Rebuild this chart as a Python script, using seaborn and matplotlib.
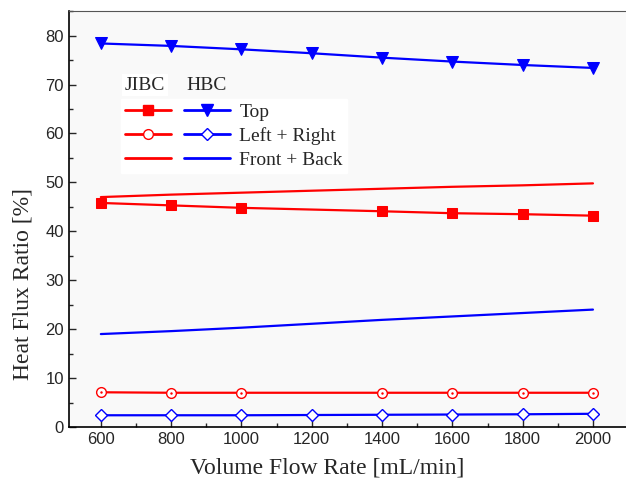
import numpy as np
import pandas as pd
import seaborn as sns
import matplotlib.pyplot as plt
from matplotlib.lines import Line2D
from matplotlib.ticker import MultipleLocator

# 流量 (mL/min)
flow_hbc = [600, 800, 1000, 1200, 1400, 1600, 1800, 2000]
flow_jibc = [600, 800, 1000, 1400, 1600, 1800, 2000]  # 1200 没有数据

jibc_top = [45.8, 45.3, 44.8, 44.1, 43.7, 43.5, 43.2]
jibc_lr = [7.1, 7.0, 7.0, 7.0, 7.0, 7.0, 7.0]
jibc_fb = [47.0, 47.5, 47.9, 48.3, 48.7, 49.1, 49.4, 49.8]

hbc_top = [78.4, 77.9, 77.2, 76.4, 75.5, 74.7, 74.0, 73.4]
hbc_lr = [2.4, 2.4, 2.4, 2.45, 2.5, 2.55, 2.6, 2.7]
hbc_fb = [19.0, 19.6, 20.3, 21.1, 21.9, 22.6, 23.3, 24.0]

sns.set_style("ticks")
plt.rcParams['font.family'] = ['Liberation Serif', 'DejaVu Serif']

fig = plt.figure(figsize=(6.26, 4.86), dpi=100)
ax = fig.add_axes([0.110, 0.1214, 0.89, 0.8556])
ax.set_facecolor('#f9f9f9')

red = '#ff0000'
blue = '#0000ff'
lw = 1.6

sns.lineplot(x=flow_hbc, y=jibc_fb, color=red, lw=lw, ax=ax)
sns.lineplot(x=flow_jibc, y=jibc_top, color=red, lw=lw, marker='s', markersize=7,
             markeredgecolor=red, ax=ax)
sns.lineplot(x=flow_jibc, y=jibc_lr, color=red, lw=lw, marker='o', markersize=7,
             markerfacecolor='white', markeredgecolor=red, markeredgewidth=1.0, ax=ax)
sns.lineplot(x=flow_hbc, y=hbc_fb, color=blue, lw=lw, ax=ax)
sns.lineplot(x=flow_hbc, y=hbc_top, color=blue, lw=lw, marker='v', markersize=8,
             markeredgecolor=blue, ax=ax)
sns.lineplot(x=flow_hbc, y=hbc_lr, color=blue, lw=lw, marker='D', markersize=6.5,
             markerfacecolor='white', markeredgecolor=blue, markeredgewidth=1.0, ax=ax)
# 小点：圆圈中心
ax.plot(flow_jibc, jibc_lr, ls='none', marker='.', markersize=1.5, color=red)

ax.set_xlim(509, 2094)
ax.set_ylim(0, 85)
ax.xaxis.set_major_locator(MultipleLocator(200))
ax.xaxis.set_minor_locator(MultipleLocator(100))
ax.yaxis.set_major_locator(MultipleLocator(10))
ax.yaxis.set_minor_locator(MultipleLocator(5))
ax.tick_params(which='both', direction='in', top=False, right=False, width=1.0)
ax.tick_params(which='major', length=5, labelsize=12)
ax.tick_params(which='minor', length=3)
for lab in ax.get_xticklabels() + ax.get_yticklabels():
    lab.set_family(['Liberation Sans', 'DejaVu Sans'])
ax.spines['right'].set_visible(False)
ax.spines['top'].set_color('#555555')
for s in ['left', 'bottom']:
    ax.spines[s].set_color('black')
    ax.spines[s].set_linewidth(1.2)

ax.set_xlabel('Volume Flow Rate [mL/min]', fontsize=17)
ax.set_ylabel('Heat Flux Ratio [%]', fontsize=17)
ax.xaxis.set_label_coords(0.463, -0.074)
ax.yaxis.set_label_coords(-0.064, 0.344)

# 图例：JIBC 与 HBC 两列
h_red = [Line2D([], [], color=red, lw=2, marker='s', markersize=7),
         Line2D([], [], color=red, lw=2, marker='o', markersize=7,
                markerfacecolor='white', markeredgewidth=1.0),
         Line2D([], [], color=red, lw=2)]
h_blue = [Line2D([], [], color=blue, lw=2, marker='v', markersize=8),
          Line2D([], [], color=blue, lw=2, marker='D', markersize=6.5,
                 markerfacecolor='white', markeredgewidth=1.0),
          Line2D([], [], color=blue, lw=2)]
labels = ['', '', '', 'Top', 'Left + Right', 'Front + Back']
leg = ax.legend(h_red + h_blue, labels, ncol=2, loc='upper left',
                bbox_to_anchor=(0.077, 0.812), frameon=True, fancybox=False,
                facecolor='white', edgecolor='white', framealpha=1,
                fontsize=14, handlelength=2.37, handletextpad=0.46,
                columnspacing=0.2, labelspacing=0.34, borderpad=0.2)

ax.text(0.10, 0.822, 'JIBC', transform=ax.transAxes, fontsize=14,
        va='center', ha='left', bbox=dict(facecolor='white', edgecolor='none', pad=2))
ax.text(0.211, 0.822, 'HBC', transform=ax.transAxes, fontsize=14,
        va='center', ha='left')

fig.savefig('out.png', dpi=100)
